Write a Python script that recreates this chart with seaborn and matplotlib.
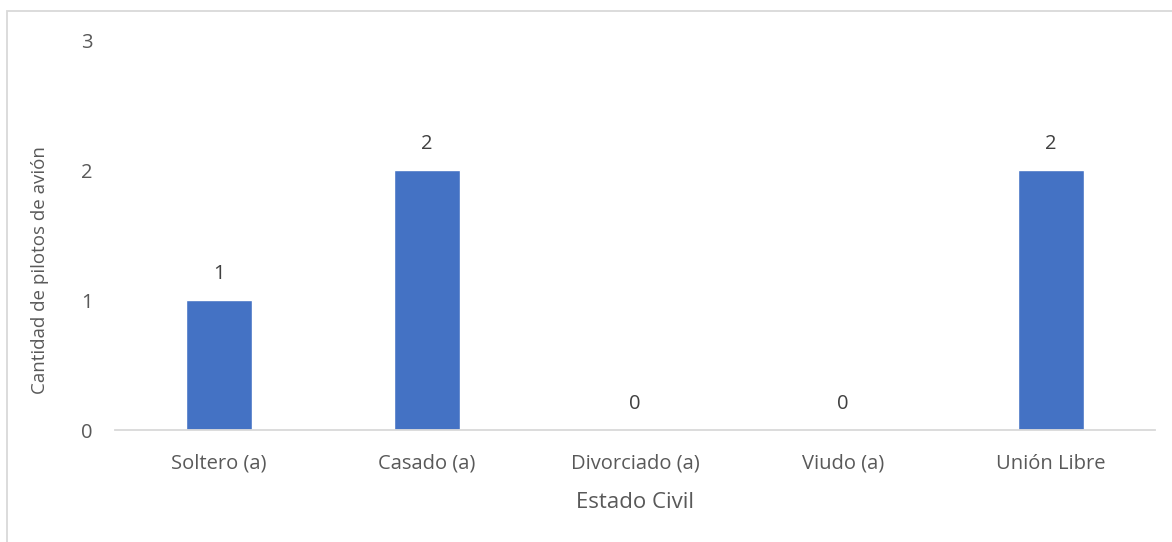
import matplotlib
matplotlib.use("Agg")
import matplotlib.pyplot as plt
import seaborn as sns
import pandas as pd
from matplotlib.patches import Rectangle

categorias = ["Soltero (a)", "Casado (a)", "Divorciado (a)", "Viudo (a)", "Unión Libre"]
pilotos = [1, 2, 0, 0, 2]
y_ticks = [0, 1, 2, 3]

sns.set_theme(style="white")
plt.rcParams["font.family"] = ["Open Sans", "DejaVu Sans"]

gris = "#595959"
azul = "#4472C4"

df = pd.DataFrame({"Estado Civil": categorias, "Cantidad": pilotos})

fig = plt.figure(figsize=(11.72, 5.42), dpi=100)
ax = fig.add_axes([115 / 1172, 1 - 430 / 542, (1155 - 115) / 1172, (430 - 40) / 542])

sns.barplot(data=df, x="Estado Civil", y="Cantidad", color=azul, width=0.317,
            saturation=1, ax=ax)

ax.set_ylim(0, 3)
ax.set_xlim(-0.5, len(categorias) - 0.5)
ax.set_yticks(y_ticks)
ax.set_yticklabels([str(t) for t in y_ticks])

for i, v in enumerate(pilotos):
    ax.annotate(str(v), (i, v), xytext=(0, 19), textcoords="offset points",
                ha="center", va="center", fontsize=14.5, color="#404040")

for s in ["top", "right", "left"]:
    ax.spines[s].set_visible(False)
ax.spines["bottom"].set_color("#D9D9D9")
ax.spines["bottom"].set_linewidth(1.3)

ax.tick_params(axis="both", length=0, labelsize=14.5, colors=gris)
ax.tick_params(axis="y", pad=16)
ax.tick_params(axis="x", pad=17)

ax.set_xlabel("Estado Civil", fontsize=16, color=gris, labelpad=13)
ax.set_ylabel("Cantidad de pilotos de avión", fontsize=13.5, color=gris)
ax.yaxis.set_label_coords(-0.063, 0.41)

# light frame around the chart area
fig.patches.append(Rectangle((6.5 / 1172, -0.01), 1.02, 1 - 10.5 / 542 + 0.01,
                             transform=fig.transFigure, fill=False,
                             edgecolor="#D9D9D9", linewidth=1.3))

fig.savefig("out.png", dpi=100)
